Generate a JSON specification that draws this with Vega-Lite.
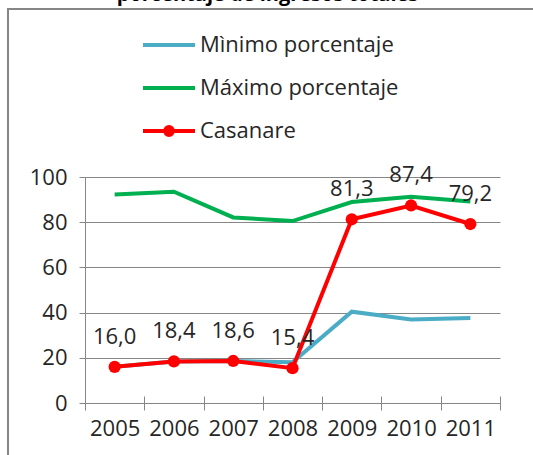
{
  "$schema": "https://vega.github.io/schema/vega-lite/v6.json",
  "width": 415,
  "height": 226,
  "autosize": {"type": "none"},
  "padding": {"left": 85, "top": 177, "right": 33, "bottom": 52},
  "background": "white",
  "config": {
    "font": "Open Sans",
    "view": {"stroke": null},
    "locale": {"number": {"decimal": ",", "thousands": ".", "grouping": [3], "currency": ["", " €"]}}
  },
  "title": {
    "text": "porcentaje de ingresos totales",
    "fontSize": 20,
    "fontWeight": "bold",
    "color": "#000000",
    "anchor": "middle",
    "dx": -25,
    "offset": 3
  },
  "data": {
    "values": [
      {"year": "2005", "serie": "Mìnimo porcentaje", "value": 16.0},
      {"year": "2006", "serie": "Mìnimo porcentaje", "value": 18.4},
      {"year": "2007", "serie": "Mìnimo porcentaje", "value": 18.6},
      {"year": "2008", "serie": "Mìnimo porcentaje", "value": 18.0},
      {"year": "2009", "serie": "Mìnimo porcentaje", "value": 40.4},
      {"year": "2010", "serie": "Mìnimo porcentaje", "value": 37.0},
      {"year": "2011", "serie": "Mìnimo porcentaje", "value": 37.6},
      {"year": "2005", "serie": "Máximo porcentaje", "value": 92.3},
      {"year": "2006", "serie": "Máximo porcentaje", "value": 93.5},
      {"year": "2007", "serie": "Máximo porcentaje", "value": 82.1},
      {"year": "2008", "serie": "Máximo porcentaje", "value": 80.5},
      {"year": "2009", "serie": "Máximo porcentaje", "value": 88.9},
      {"year": "2010", "serie": "Máximo porcentaje", "value": 91.3},
      {"year": "2011", "serie": "Máximo porcentaje", "value": 89.2},
      {"year": "2005", "serie": "Casanare", "value": 16.0},
      {"year": "2006", "serie": "Casanare", "value": 18.4},
      {"year": "2007", "serie": "Casanare", "value": 18.6},
      {"year": "2008", "serie": "Casanare", "value": 15.4},
      {"year": "2009", "serie": "Casanare", "value": 81.3},
      {"year": "2010", "serie": "Casanare", "value": 87.4},
      {"year": "2011", "serie": "Casanare", "value": 79.2}
    ]
  },
  "resolve": {"axis": {"x": "independent"}},
  "layer": [
    {
      "transform": [{"filter": "datum.serie !== 'Casanare'"}],
      "mark": {"type": "line", "strokeWidth": 4},
      "encoding": {
        "x": {
          "field": "year",
          "type": "ordinal",
          "scale": {"paddingInner": 0, "paddingOuter": 0},
          "axis": {
            "orient": "bottom",
            "title": null,
            "labelAngle": 0,
            "labelFontSize": 22,
            "labelColor": "#262626",
            "labelPadding": 8,
            "domainColor": "#868686",
            "domainWidth": 1,
            "tickColor": "#868686",
            "tickSize": 7,
            "tickBand": "extent",
            "grid": false
          }
        },
        "y": {
          "field": "value",
          "type": "quantitative",
          "scale": {"domain": [0, 100], "nice": false},
          "axis": {
            "title": null,
            "values": [0, 20, 40, 60, 80, 100],
            "labelFontSize": 22,
            "labelColor": "#262626",
            "labelPadding": 12,
            "domain": true,
            "domainColor": "#868686",
            "tickColor": "#868686",
            "tickSize": 6,
            "grid": true,
            "gridColor": "#868686",
            "gridWidth": 1
          }
        },
        "color": {
          "field": "serie",
          "type": "nominal",
          "scale": {
            "domain": ["Mìnimo porcentaje", "Máximo porcentaje", "Casanare"],
            "range": ["#4BACC6", "#00B050", "#FF0000"]
          },
          "legend": {
            "orient": "none",
            "legendX": -77,
            "legendY": -168,
            "title": null,
            "padding": 8,
            "strokeColor": "#868686",
            "symbolType": "stroke",
            "symbolSize": 2704,
            "symbolStrokeWidth": 4,
            "symbolOffset": 125,
            "labelFontSize": 22,
            "labelColor": "#262626",
            "labelOffset": 3,
            "labelLimit": 1000,
            "rowPadding": 4,
            "encode": {
              "legend": {"update": {"strokeWidth": {"value": 2}}},
              "symbols": {
                "update": {
                  "shape": {"signal": "datum.value === 'Casanare' ? 'M-1,0L1,0M-0.15,0A0.15,0.15,0,1,1,0.15,0A0.15,0.15,0,1,1,-0.15,0ZM16,26' : 'stroke'"},
                  "fill": {"signal": "datum.value === 'Casanare' ? '#FF0000' : 'transparent'"}
                }
              }
            }
          }
        }
      }
    },
    {
      "transform": [{"filter": "datum.serie === 'Casanare'"}],
      "mark": {"type": "line", "strokeWidth": 4},
      "encoding": {
        "x": {"field": "year", "type": "ordinal", "axis": null},
        "y": {"field": "value", "type": "quantitative"},
        "color": {"field": "serie", "type": "nominal"}
      }
    },
    {
      "transform": [{"filter": "datum.serie === 'Casanare'"}],
      "mark": {"type": "point", "filled": true, "size": 150, "opacity": 1, "color": "#FF0000"},
      "encoding": {
        "x": {"field": "year", "type": "ordinal", "axis": null},
        "y": {"field": "value", "type": "quantitative"}
      }
    },
    {
      "transform": [{"filter": "datum.serie === 'Casanare'"}],
      "mark": {"type": "text", "dy": -30, "fontSize": 22, "color": "#262626"},
      "encoding": {
        "x": {
          "field": "year",
          "type": "ordinal",
          "axis": {
            "orient": "bottom",
            "title": null,
            "labels": false,
            "domain": false,
            "grid": false,
            "tickSize": -7,
            "tickColor": "#868686",
            "tickBand": "extent"
          }
        },
        "y": {"field": "value", "type": "quantitative"},
        "text": {"field": "value", "type": "quantitative", "format": ".1f"}
      }
    }
  ]
}
